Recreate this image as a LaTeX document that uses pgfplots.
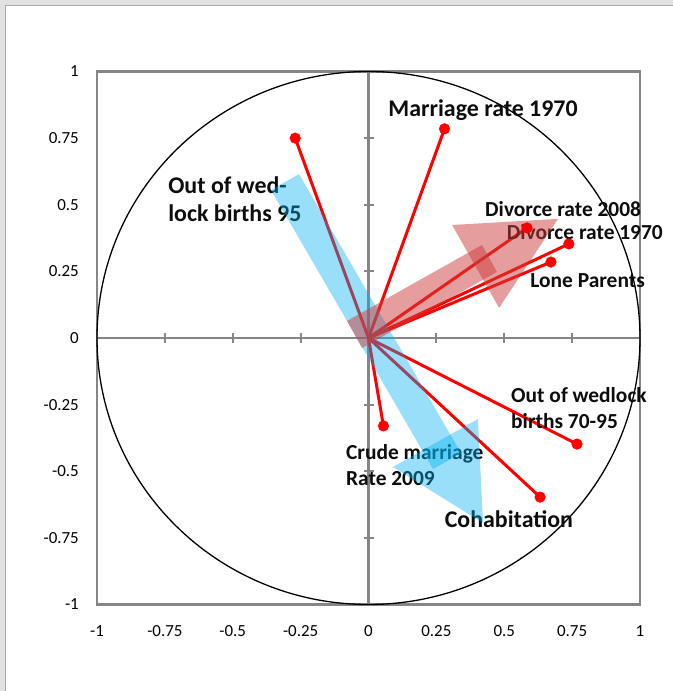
\documentclass[border=0pt]{standalone}
\usepackage{pgfplots}
\pgfplotsset{compat=1.18}
\usepackage{fontspec}
\setmainfont{Carlito}

\definecolor{axgray}{RGB}{134,134,134}
\definecolor{arrowblue}{RGB}{0,176,240}
\definecolor{arrowred}{RGB}{205,60,60}
\definecolor{framegray}{RGB}{226,226,226}
\definecolor{frameline}{RGB}{170,170,170}

\newcommand{\biglab}{\fontsize{24}{28}\selectfont\bfseries}
\newcommand{\smalllab}{\fontsize{21.5}{26}\selectfont\bfseries}

\begin{document}
\begin{tikzpicture}
% chart area with the grey frame on the left and top
\useasboundingbox (0,0) rectangle (673bp,691bp);
\fill[framegray] (0,0) rectangle (673bp,691bp);
\fill[white] (6bp,0) rectangle (673bp,685bp);
\draw[frameline, line width=1.5bp] (5.5bp,0) -- (5.5bp,685.5bp) -- (673bp,685.5bp);

\begin{axis}[
    scale only axis,
    width=543bp, height=533bp,
    at={(97bp,86.5bp)}, anchor=south west,
    xmin=-1, xmax=1, ymin=-1, ymax=1,
    axis line style={draw=axgray, line width=2.5bp},
    xtick={-1,-0.75,-0.5,-0.25,0,0.25,0.5,0.75,1},
    ytick={-1,-0.75,-0.5,-0.25,0,0.25,0.5,0.75,1},
    xticklabels={-1,-0.75,-0.5,-0.25,0,0.25,0.5,0.75,1},
    yticklabels={-1,-0.75,-0.5,-0.25,0,0.25,0.5,0.75,1},
    major tick length=0pt,
    tick style={draw=none},
    xticklabel style={anchor=center, yshift=-27bp, font=\fontsize{17}{20}\selectfont},
    yticklabel style={anchor=east, inner sep=0pt, xshift=-18bp, font=\fontsize{17}{20}\selectfont},
    clip=false,
]
% axes through the origin
\draw[axgray, line width=2.2bp] (axis cs:-1,0) -- (axis cs:1,0);
\draw[axgray, line width=2.2bp] (axis cs:0,-1) -- (axis cs:0,1);
\addplot[only marks, mark=|, mark size=5bp, mark options={draw=axgray, line width=2.2bp}]
    coordinates {(-0.75,0) (-0.5,0) (-0.25,0) (0.25,0) (0.5,0) (0.75,0)};
\addplot[only marks, mark=-, mark size=5bp, mark options={draw=axgray, line width=2.2bp}]
    coordinates {(0,-0.75) (0,-0.5) (0,-0.25) (0,0.25) (0,0.5) (0,0.75)};

% unit circle
\draw[black, line width=1.3bp] (axis cs:0,0) ellipse [x radius=1, y radius=1];

% loadings
\pgfplotsset{vec/.style={color=red, line width=3bp, mark=*, mark indices={2}, mark size=5.3bp, mark options={fill=red, draw=red, line width=0.5bp}}}
\addplot[vec] coordinates {(0,0) (0.28,0.785)};    % Marriage rate 1970
\addplot[vec] coordinates {(0,0) (-0.27,0.75)};    % Out of wedlock births 95
\addplot[vec] coordinates {(0,0) (0.584,0.413)};   % Divorce rate 2008
\addplot[vec] coordinates {(0,0) (0.738,0.353)};   % Divorce rate 1970
\addplot[vec] coordinates {(0,0) (0.672,0.285)};   % Lone Parents
\addplot[vec] coordinates {(0,0) (0.768,-0.398)};  % Out of wedlock births 70-95
\addplot[vec] coordinates {(0,0) (0.632,-0.597)};  % Cohabitation
\addplot[vec] coordinates {(0,0) (0.055,-0.33)};   % Crude marriage Rate 2009

% labels
\node[text=black!95, font=\biglab] at (axis cs:0.422,0.856) {Marriage rate 1970};
\node[anchor=west, align=left, inner sep=0pt, text=black!95, font=\biglab] at (axis cs:-0.738,0.52) {Out of wed-\\lock births 95};
\node[text=black!95, font=\smalllab] at (axis cs:0.717,0.484) {Divorce rate 2008};
\node[text=black!95, font=\smalllab] at (axis cs:0.797,0.398) {Divorce rate 1970};
\node[text=black!95, font=\smalllab] at (axis cs:0.807,0.214) {Lone Parents};
\node[anchor=west, align=left, inner sep=0pt, text=black!95, font=\smalllab] at (axis cs:0.525,-0.262) {Out of wedlock\\births 70-95};
\node[anchor=west, align=left, inner sep=0pt, text=black!95, font=\smalllab] at (axis cs:-0.083,-0.476) {Crude marriage\\Rate 2009};
\node[text=black!95, font=\biglab] at (axis cs:0.517,-0.68) {Cohabitation};

% broad arrows
\addplot[fill=arrowblue, draw=none, fill opacity=0.4]
    coordinates {(-0.359,0.555) (-0.256,0.615) (0.341,-0.432) (0.238,-0.492)} -- cycle;
\addplot[fill=arrowblue, draw=none, fill opacity=0.4]
    coordinates {(0.090,-0.484) (0.403,-0.304) (0.422,-0.694)} -- cycle;
\addplot[fill=arrowred, draw=none, fill opacity=0.5]
    coordinates {(-0.079,0.064) (-0.024,-0.038) (0.473,0.248) (0.418,0.349)} -- cycle;
\addplot[fill=arrowred, draw=none, fill opacity=0.5]
    coordinates {(0.308,0.424) (0.698,0.447) (0.481,0.113)} -- cycle;
\end{axis}
\end{tikzpicture}
\end{document}
